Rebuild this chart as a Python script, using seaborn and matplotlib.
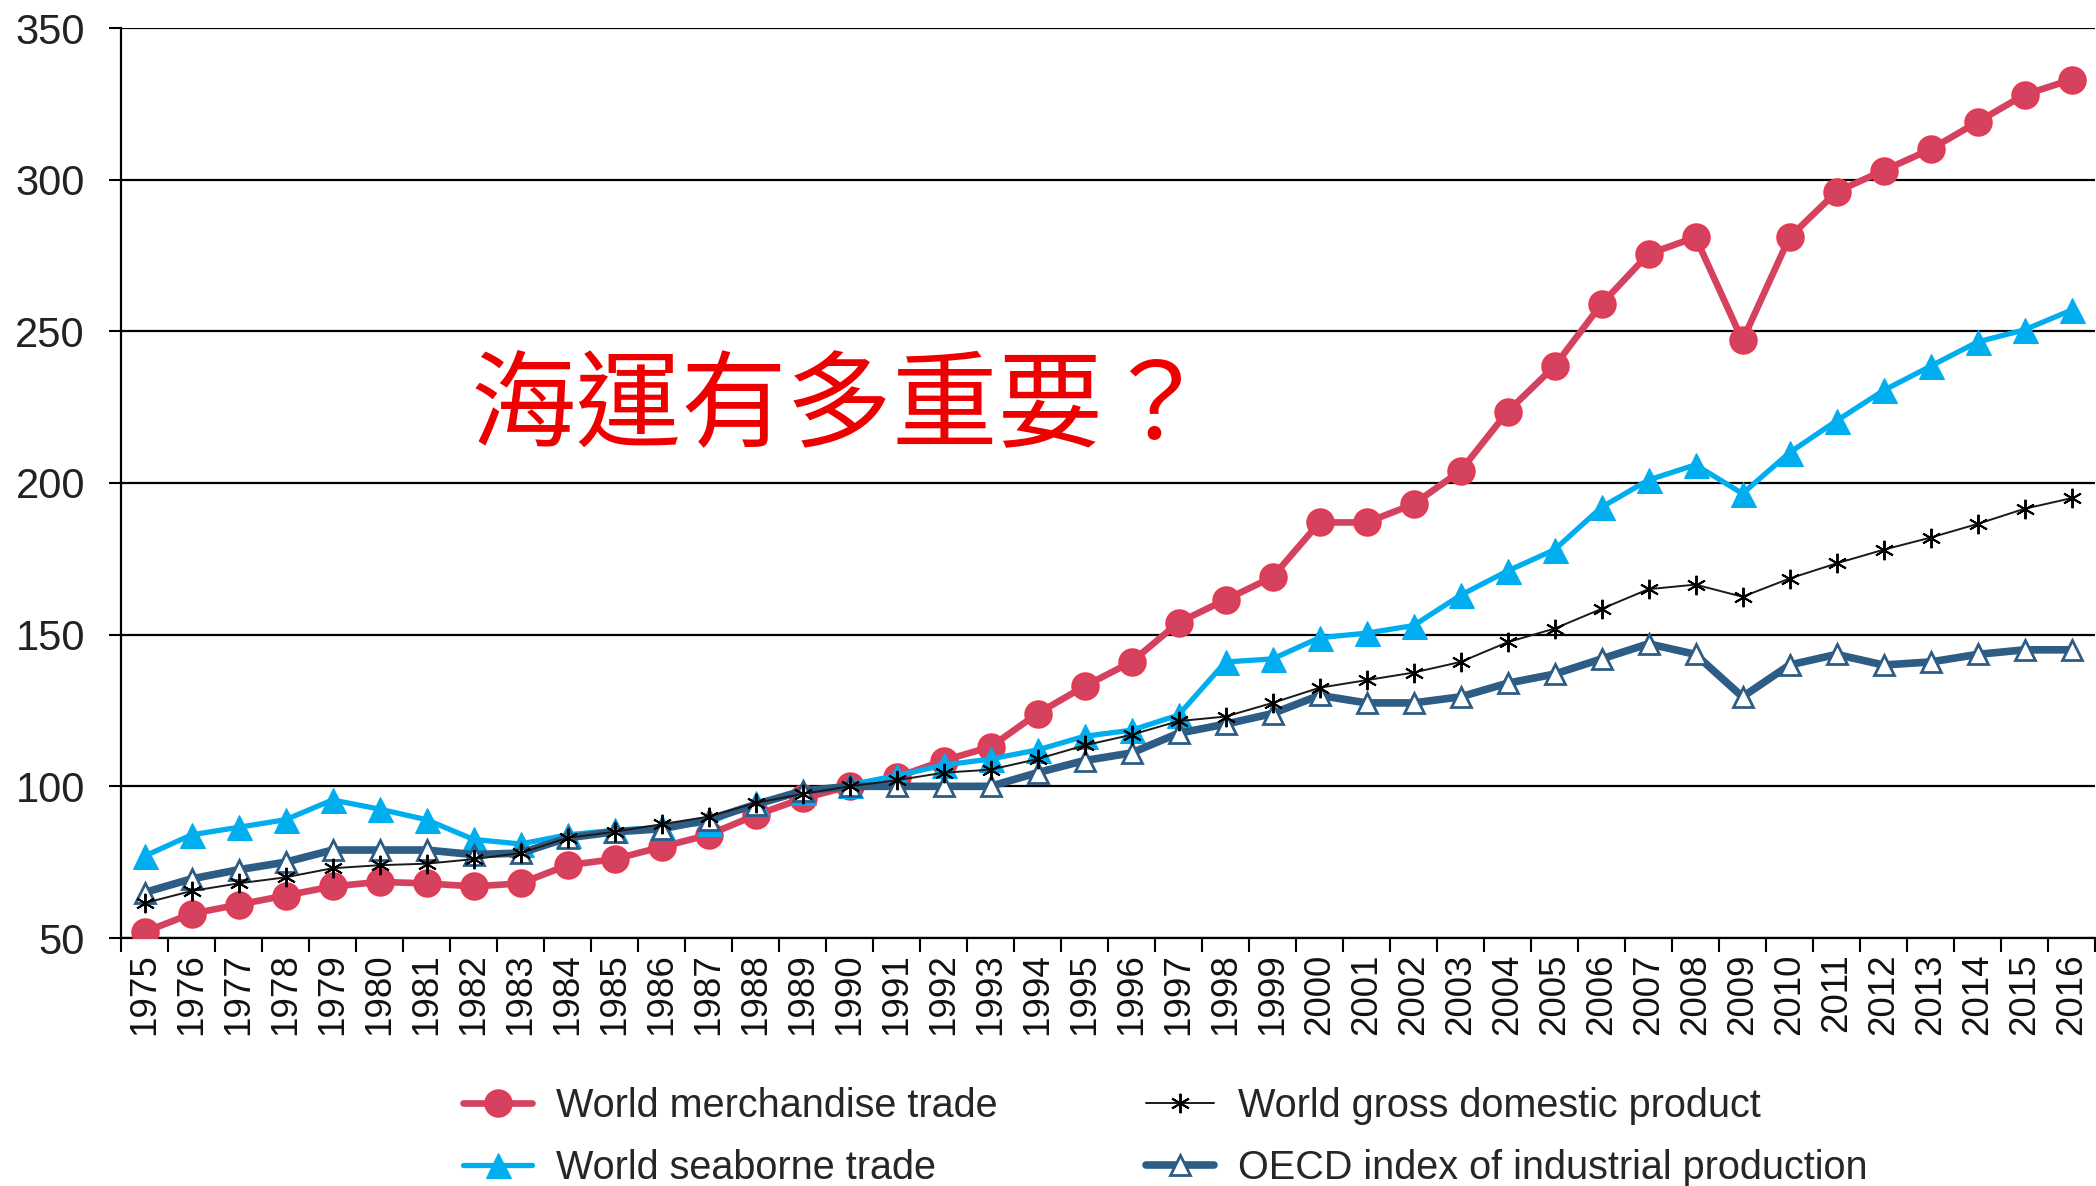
import matplotlib
matplotlib.use('Agg')
import matplotlib.pyplot as plt
import seaborn as sns
import numpy as np

# Data (index, 1990 = 100)
years = list(range(1975, 2017))

merchandise = [52, 58, 61, 64, 67, 68.5, 68, 67, 68, 74, 76, 80, 84, 90.5, 96,
               100, 103, 108.5, 113, 124, 133, 141, 154, 161.5, 169, 187, 187,
               193, 204, 223.5, 238.5, 259, 275.5, 281, 247, 281, 296, 303,
               310, 319, 328, 333]
seaborne = [77, 84, 86.5, 89, 95.5, 92.5, 89, 82.5, 81, 84, 85.5, 86.5, 88,
            94.5, 98, 100.5, 103.5, 107, 109, 112, 116.5, 118.5, 123.5, 141,
            142, 149, 150.5, 153, 163, 171, 178, 192, 201, 206, 196.5, 210,
            220.5, 230.5, 238.5, 246.5, 250.5, 257]
gdp = [61.5, 65.5, 68, 70, 73, 74, 74.5, 76, 78, 83, 85, 87.5, 90, 94.5, 97.5,
       100, 102, 104.5, 105.5, 109, 113.5, 117, 121.5, 123, 127.5, 132.5, 135,
       137.5, 141, 147.5, 152, 158.5, 165, 166.5, 162.5, 168.5, 173.5, 178,
       182, 186.5, 191.5, 195]
oecd = [65, 69.5, 72.5, 75, 79, 79, 79, 77.5, 78, 83, 85, 86, 89, 94, 98.5,
        100, 100, 100, 100, 104.5, 108.5, 111, 117.5, 120.5, 124, 130, 127.5,
        127.5, 129.5, 134, 137, 142, 147, 143.5, 129.5, 140, 143.5, 140, 141,
        143.5, 145, 145]

series_labels = ['World merchandise trade', 'World seaborne trade',
                 'World gross domestic product', 'OECD index of industrial production']
y_ticks = [50, 100, 150, 200, 250, 300, 350]
title_text = '海運有多重要？'

sns.set_style('white')
plt.rcParams['font.family'] = ['Liberation Sans', 'Noto Sans CJK TC', 'DejaVu Sans']

fig = plt.figure(figsize=(20.96, 11.86), dpi=100)
ax = fig.add_axes([121 / 2096, 1 - 938 / 1186, (2095 - 121) / 2096, (938 - 28) / 1186])

idx = np.arange(len(years))

sns.lineplot(x=idx, y=merchandise, ax=ax, color='#D4425F', linewidth=4.8,
             marker='o', markersize=19, markerfacecolor='#D4425F',
             markeredgecolor='#E8384F', markeredgewidth=1.5,
             label=series_labels[0], zorder=3)
sns.lineplot(x=idx, y=seaborne, ax=ax, color='#00AEEF', linewidth=3.8,
             marker='^', markersize=18, markeredgecolor='#00AEEF',
             label=series_labels[1], zorder=4)
sns.lineplot(x=idx, y=oecd, ax=ax, color='#2D5C84', linewidth=5.5,
             marker='^', markersize=15, markerfacecolor='white',
             markeredgecolor='#2D5C84', markeredgewidth=2,
             label=series_labels[3], zorder=5)
sns.lineplot(x=idx, y=gdp, ax=ax, color='#1a1a1a', linewidth=1.4,
             marker=(6, 2, 0), markersize=14, markeredgecolor='black',
             markeredgewidth=1.4, label=series_labels[2], zorder=6)

ax.set_xlim(-0.5, len(years) - 0.5)
ax.set_ylim(50, 350)
ax.set_yticks(y_ticks)
ax.set_yticklabels([str(v) for v in y_ticks], fontsize=30, color='#222222')
ax.tick_params(axis='y', length=9, width=1.5, pad=17, color='black', left=True)

# x: boundaries as major ticks (marks), centres as minor ticks (labels)
ax.set_xticks(np.arange(-0.5, len(years), 1.0))
ax.set_xticklabels([])
ax.tick_params(axis='x', which='major', length=10, width=1.5, bottom=True, color='black')
ax.set_xticks(idx, minor=True)
ax.set_xticklabels([str(y) for y in years], minor=True, rotation=90,
                   fontsize=26.5, color='#111111')
ax.tick_params(axis='x', which='minor', length=0, pad=11)

ax.grid(axis='y', color='black', linewidth=1.6)
ax.grid(axis='x', visible=False)
for s in ['top', 'right']:
    ax.spines[s].set_visible(False)
ax.spines['left'].set_color('black')
ax.spines['left'].set_linewidth(1.6)
ax.spines['bottom'].set_color('black')
ax.spines['bottom'].set_linewidth(1.6)
ax.set_xlabel('')
ax.set_ylabel('')

ax.text(0.364, 0.582, title_text, transform=ax.transAxes, ha='center', va='center',
        fontsize=76, color='#EE0000', family=['Noto Sans CJK TC'])

handles, labels = ax.get_legend_handles_labels()
ax.get_legend().remove()
order = [labels.index(l) for l in series_labels]
fig.legend([handles[i] for i in order], [labels[i] for i in order], ncol=2,
           loc='lower center', bbox_to_anchor=(0.556, -0.031), frameon=False,
           fontsize=28.5, handlelength=1.73, handletextpad=0.6, columnspacing=3.75,
           labelspacing=0.62, numpoints=1)

fig.savefig('out.png', dpi=100)
